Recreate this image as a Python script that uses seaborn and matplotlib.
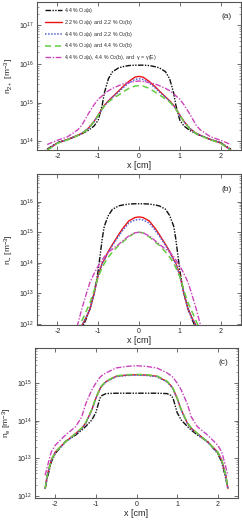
import numpy as np
import pandas as pd
import matplotlib
matplotlib.use("Agg")
import matplotlib.pyplot as plt
import seaborn as sns
from matplotlib.ticker import LogLocator, NullFormatter, FixedLocator

# ---------------- data (half profiles, x >= 0; profiles are symmetric) ----------------
series_labels = [
    "4.4 % O$_2$(a)",
    "2.2 % O$_2$(a) and 2.2 % O$_2$(b)",
    "4.4 % O$_2$(a) and 2.2 % O$_2$(b)",
    "4.4 % O$_2$(a) and 4.4 % O$_2$(b)",
    "4.4 % O$_2$(a), 4.4 % O$_2$(b), and  $\\gamma$ = $\\gamma$(E)",
]

# panel (a): n_2+ (log10 m^-3)
xa = [0, 0.1, 0.25, 0.4, 0.5, 0.65, 0.75, 0.85, 0.9, 1.0, 1.1, 1.25, 1.4, 1.5, 1.75, 2.0, 2.25]
a_black = [15.97, 15.97, 15.96, 15.93, 15.90, 15.80, 15.62, 15.25, 14.95, 14.55, 14.40, 14.28, 14.20, 14.15, 14.05, 13.97, 13.80]
a_red = [15.68, 15.66, 15.55, 15.41, 15.30, 15.15, 15.05, 14.93, 14.85, 14.68, 14.52, 14.33, 14.21, 14.16, 14.05, 13.96, 13.78]
a_blue = [15.62, 15.60, 15.51, 15.38, 15.28, 15.14, 15.04, 14.92, 14.84, 14.67, 14.51, 14.33, 14.21, 14.16, 14.05, 13.96, 13.78]
a_green = [15.44, 15.43, 15.37, 15.27, 15.20, 15.10, 15.02, 14.91, 14.84, 14.67, 14.51, 14.32, 14.20, 14.15, 14.04, 13.95, 13.77]
a_mag = [15.56, 15.55, 15.52, 15.48, 15.44, 15.37, 15.31, 15.23, 15.18, 15.09, 14.95, 14.70, 14.42, 14.30, 14.12, 14.03, 13.92]

# panel (b): n_- (log10 m^-3)
xb = [0, 0.1, 0.25, 0.4, 0.5, 0.65, 0.75, 0.85, 0.9, 1.0, 1.1, 1.2, 1.3, 1.4, 1.5, 1.6]
b_black = [15.93, 15.93, 15.92, 15.89, 15.86, 15.75, 15.55, 15.20, 14.80, 13.75, 13.00, 12.50, 12.15, 11.85, 11.60, 11.30]
b_red = [15.50, 15.48, 15.37, 15.12, 14.92, 14.60, 14.38, 14.10, 14.00, 13.60, 13.00, 12.50, 12.20, 11.95, 11.70, 11.40]
b_blue = [15.42, 15.40, 15.30, 15.06, 14.87, 14.57, 14.36, 14.09, 13.98, 13.58, 13.00, 12.50, 12.20, 11.95, 11.70, 11.40]
b_green = [15.00, 14.98, 14.85, 14.68, 14.57, 14.35, 14.19, 13.98, 13.85, 13.55, 13.10, 12.70, 12.40, 12.10, 11.80, 11.50]
b_mag = [15.00, 14.98, 14.88, 14.72, 14.60, 14.45, 14.35, 14.20, 14.10, 13.90, 13.65, 13.37, 12.95, 12.50, 12.00, 11.60]

# panel (c): n_e (log10 m^-3)
xc = [0, 0.25, 0.5, 0.75, 0.85, 0.9, 1.0, 1.1, 1.25, 1.35, 1.5, 1.75, 2.0, 2.1, 2.2, 2.25]
c_black = [14.73, 14.73, 14.73, 14.72, 14.67, 14.60, 14.22, 14.02, 13.85, 13.75, 13.62, 13.45, 13.13, 12.90, 12.46, 12.20]
c_red = [15.22, 15.21, 15.18, 15.04, 14.93, 14.85, 14.60, 14.29, 13.94, 13.80, 13.66, 13.44, 13.17, 12.95, 12.55, 12.20]
c_blue = [15.21, 15.20, 15.17, 15.03, 14.92, 14.84, 14.59, 14.28, 13.93, 13.79, 13.65, 13.43, 13.16, 12.94, 12.54, 12.20]
c_green = [15.23, 15.22, 15.19, 15.05, 14.94, 14.86, 14.61, 14.30, 13.95, 13.81, 13.66, 13.44, 13.17, 12.95, 12.55, 12.20]
c_mag = [15.46, 15.44, 15.40, 15.27, 15.20, 15.15, 15.00, 14.82, 14.45, 14.10, 13.84, 13.62, 13.35, 13.17, 12.77, 12.55]

x_ticks = [-2, -1, 0, 1, 2]
panel_tags = ["(a)", "(b)", "(c)"]
y_labels = ["n$_{2+}$ [m$^{-3}$]", "n$_{-}$ [m$^{-3}$]", "n$_{e}$ [m$^{-3}$]"]

# ---------------- style ----------------
sns.set_style("ticks")
plt.rcParams["font.family"] = ["Liberation Sans", "DejaVu Sans"]
plt.rcParams["mathtext.fontset"] = "custom"
plt.rcParams["mathtext.rm"] = "Liberation Sans"
plt.rcParams["mathtext.it"] = "Liberation Sans:italic"
plt.rcParams["mathtext.default"] = "regular"

colors = ["#111111", "#ee1111", "#5566dd", "#66cc44", "#cc44bb"]
styles = [(0, (4, 1, 1, 1, 1, 1)), "-", (0, (1, 1)), (0, (4, 2.5)), (0, (4, 1.2, 1, 1.2))]
widths = [1.0, 1.0, 1.1, 1.1, 1.0]


def mirror(x, y):
    x = np.asarray(x, float)
    y = np.asarray(y, float)
    xf = np.concatenate([-x[::-1], x[1:]])
    yf = np.concatenate([y[::-1], y[1:]])
    return xf, 10 ** yf


fig = plt.figure(figsize=(2.42, 5.22), dpi=100)
W, H = 242.0, 522.0
boxes = [(37, 2, 241, 150), (37, 174, 241, 325), (35, 348, 238, 498)]
ylims = [(6e13, 4e17), (9.3e11, 8e16), (8.9e11, 8.5e15)]
yticks = [[1e14, 1e15, 1e16, 1e17], [1e12, 1e13, 1e14, 1e15, 1e16], [1e12, 1e13, 1e14, 1e15]]
panels = [
    (xa, [a_black, a_red, a_blue, a_green, a_mag]),
    (xb, [b_black, b_red, b_blue, b_green, b_mag]),
    (xc, [c_black, c_red, c_blue, c_green, c_mag]),
]
tagpos = [(0.93, 0.9), (0.93, 0.9), (0.93, 0.9)]

for i, ((l, t, r, b), (xs, ys)) in enumerate(zip(boxes, panels)):
    ax = fig.add_axes([l / W, 1 - b / H, (r - l) / W, (b - t) / H])
    for k, yv in enumerate(ys):
        xf, yf = mirror(xs, yv)
        df = pd.DataFrame({"x": xf, "y": yf})
        sns.lineplot(data=df, x="x", y="y", ax=ax, color=colors[k], linestyle=styles[k],
                     linewidth=widths[k], label=series_labels[k] if i == 0 else None,
                     sort=False, estimator=None)
    ax.set_yscale("log")
    ax.set_xlim(-2.5, 2.5)
    ax.set_ylim(*ylims[i])
    ax.xaxis.set_major_locator(FixedLocator(x_ticks))
    ax.set_xticklabels([str(v) if v >= 0 else "-" + str(-v) for v in x_ticks])
    ax.yaxis.set_major_locator(FixedLocator(yticks[i]))
    ax.yaxis.set_minor_locator(LogLocator(base=10, subs=np.arange(2, 10), numticks=20))
    ax.yaxis.set_minor_formatter(NullFormatter())
    ax.tick_params(axis="both", which="both", direction="in", top=True, right=True,
                   labelsize=5, pad=2, color="#555555")
    ax.tick_params(axis="both", which="major", length=3, width=0.6)
    ax.tick_params(axis="y", which="minor", length=1.6, width=0.4)
    for s in ax.spines.values():
        s.set_color("#555555")
        s.set_linewidth(0.8)
    ax.set_xlabel("x [cm]", fontsize=6.5, labelpad=1)
    ax.set_ylabel(y_labels[i], fontsize=6)
    ax.yaxis.set_label_coords(-0.105, 0.5)
    ax.text(tagpos[i][0], tagpos[i][1], panel_tags[i], transform=ax.transAxes,
            fontsize=6, ha="center", va="center")
    if i == 0:
        ax.legend(loc="upper left", bbox_to_anchor=(0.02, 1.0), frameon=False,
                  fontsize=3.8, handlelength=3.2, handletextpad=0.5,
                  labelspacing=0.55, borderaxespad=0.3)
    else:
        leg = ax.get_legend()
        if leg is not None:
            leg.remove()

fig.savefig("out.png", dpi=100)
